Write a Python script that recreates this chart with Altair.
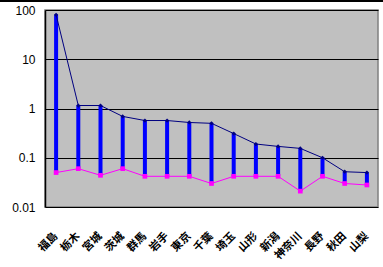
import altair as alt
import pandas as pd

prefs = ["福島", "栃木", "宮城", "茨城", "群馬", "岩手", "東京", "千葉",
         "埼玉", "山形", "新潟", "神奈川", "長野", "秋田", "山梨"]
max_vals = [80, 1.15, 1.15, 0.69, 0.57, 0.57, 0.52, 0.5,
            0.31, 0.19, 0.17, 0.155, 0.1, 0.052, 0.05]
min_vals = [0.05, 0.06, 0.044, 0.06, 0.042, 0.042, 0.042, 0.03,
            0.042, 0.042, 0.042, 0.021, 0.042, 0.03, 0.028]
y_ticks = [0.01, 0.1, 1, 10, 100]

df = pd.DataFrame({"pref": prefs, "max": max_vals, "min": min_vals})

x = alt.X("pref:N", sort=prefs,
          scale=alt.Scale(paddingInner=0, paddingOuter=0),
          axis=alt.Axis(title=None, labelAngle=-45, labelAlign="right",
                        labelBaseline="middle", labelPadding=27,
                        labelFont="Noto Sans CJK JP", labelFontSize=11,
                        labelFontWeight="bold", labelColor="black",
                        domain=False, ticks=False, grid=False))
yscale = alt.Scale(type="log", domain=[0.01, 100])
yaxis = alt.Axis(title=None, values=y_ticks, format="~g",
                 labelFont="Liberation Sans", labelFontSize=12,
                 labelColor="black", labelPadding=10, ticks=False,
                 domain=True, domainColor="black", domainWidth=1.5,
                 grid=True, gridColor="black", gridWidth=1, gridOpacity=1)

base = alt.Chart(df)

bars = base.mark_rule(color="#0000FF", strokeWidth=4).encode(
    x=x,
    y=alt.Y("min:Q", scale=yscale, axis=yaxis),
    y2="max:Q",
)
max_line = base.mark_line(color="#000080", strokeWidth=1).encode(
    x=x, y=alt.Y("max:Q", scale=yscale))
max_pts = base.mark_point(color="#000080", filled=True, shape="diamond",
                          size=18, opacity=1).encode(
    x=x, y=alt.Y("max:Q", scale=yscale))
min_line = base.mark_line(color="#FF00FF", strokeWidth=1).encode(
    x=x, y=alt.Y("min:Q", scale=yscale))
min_pts = base.mark_point(color="#FF00FF", filled=True, shape="square",
                          size=22, opacity=1).encode(
    x=x, y=alt.Y("min:Q", scale=yscale))

top_rule = alt.Chart(pd.DataFrame({"a": [0]})).mark_rule(
    color="black", strokeWidth=2).encode(
    x=alt.value(-45), x2=alt.value(338), y=alt.value(-9))

chart = alt.layer(bars, max_line, min_line, max_pts, min_pts, top_rule).properties(
    width=333, height=197,
    autosize=alt.AutoSizeParams(type="none"),
    padding={"left": 45, "top": 10, "right": 5, "bottom": 60},
    background="white",
).configure_view(
    fill="#C0C0C0", stroke="#808080", strokeWidth=1.5
)

chart.save("out.html", embed_options={"renderer": "svg", "actions": False})
